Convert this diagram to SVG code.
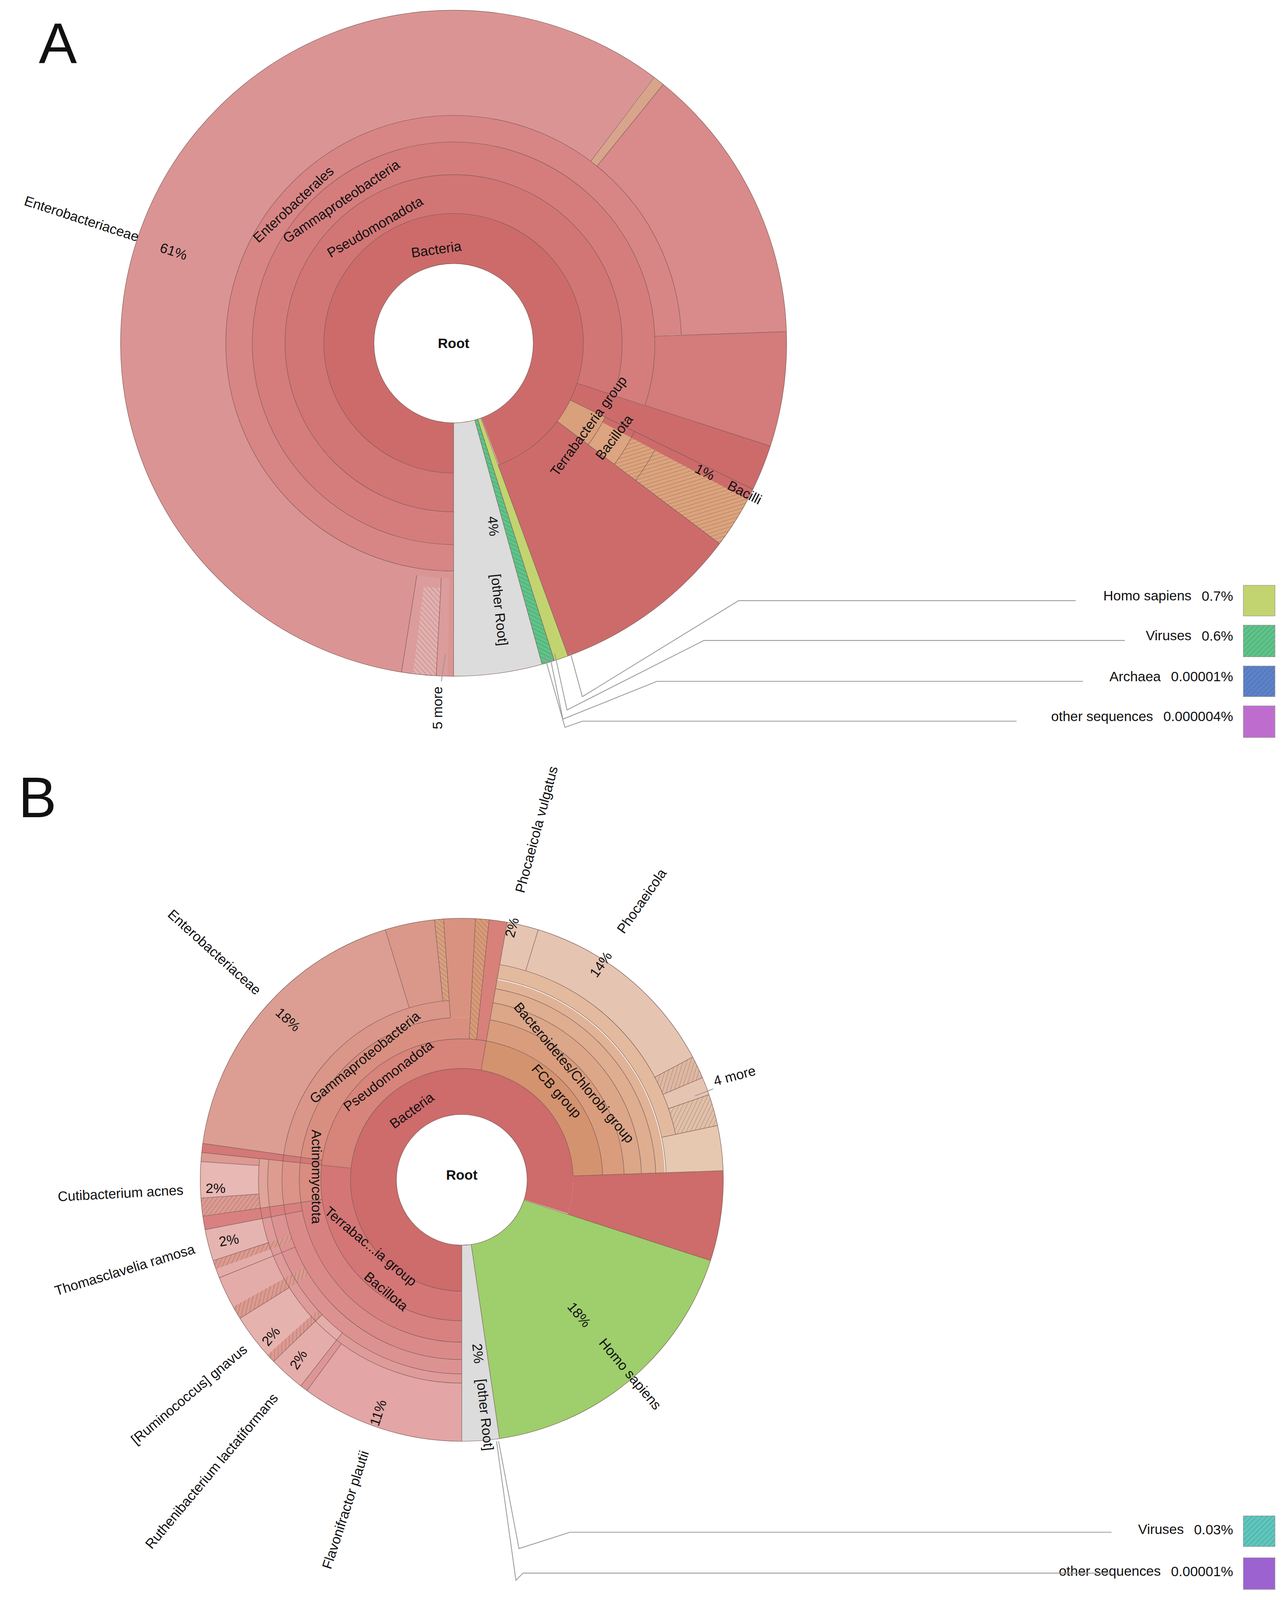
<svg xmlns="http://www.w3.org/2000/svg" width="3284" height="4102" viewBox="0 0 3284 4102">
<defs>
<pattern id="h" width="5" height="5" patternUnits="userSpaceOnUse"><path d="M0 5L5 0M-1 1L1 -1M4 6L6 4" stroke="#5a3a2a" stroke-opacity=".35" stroke-width=".5"/></pattern>
</defs>
<style>
circle{fill:none}
.b{stroke:#7a5a55;stroke-width:.45}
line.r{stroke:#7a5a55;stroke-width:.45}
text{font-family:"Liberation Sans",Arial,sans-serif;font-size:13.5px;fill:#111;text-anchor:middle;dominant-baseline:central}
.lg{text-anchor:end;font-size:13.5px}
.cn{fill:none;stroke:#999;stroke-width:.8}
.big{font-size:56px;text-anchor:start;dominant-baseline:auto}
</style>
<rect width="3284" height="4102" fill="#fff"/>
<g transform="scale(2.615)">
<text class="big" x="38" y="62">A</text>
<text class="big" x="18" y="800">B</text>

<g id="chartA" transform="translate(444,336)">
<g id="segsA">
<circle r="102.5" stroke-width="49" stroke="#cd6b6b" pathLength="360" stroke-dasharray="339.9 720" transform="rotate(90)"/>
<circle r="146" stroke-width="38" stroke="#d27575" pathLength="360" stroke-dasharray="288 720" transform="rotate(90)"/>
<circle r="181" stroke-width="32" stroke="#d57d7d" pathLength="360" stroke-dasharray="288 720" transform="rotate(90)"/>
<circle r="210" stroke-width="26" stroke="#d88585" pathLength="360" stroke-dasharray="268 720" transform="rotate(90)"/>
<circle r="274.5" stroke-width="103" stroke="#db9494" pathLength="360" stroke-dasharray="217 720" transform="rotate(90)"/>
<circle r="274.5" stroke-width="103" stroke="#d9a48c" pathLength="360" stroke-dasharray="2 720" transform="rotate(-53)"/>
<circle r="274.5" stroke-width="103" stroke="#d98a8a" pathLength="360" stroke-dasharray="49 720" transform="rotate(-51)"/>
<circle r="261.5" stroke-width="129" stroke="#d47b7b" pathLength="360" stroke-dasharray="20 720" transform="rotate(-2)"/>
<circle r="226.5" stroke-width="199" stroke="#cd6b6b" pathLength="360" stroke-dasharray="51.9 720" transform="rotate(18)"/>
<circle r="146" stroke-width="38" stroke="#d9a07c" pathLength="360" stroke-dasharray="11 720" transform="rotate(26)"/>
<circle r="181" stroke-width="32" stroke="#dca480" pathLength="360" stroke-dasharray="9 720" transform="rotate(28)"/>
<circle r="261.5" stroke-width="129" stroke="#dca47e" pathLength="360" stroke-dasharray="9 720" transform="rotate(28)"/>
<circle r="261.5" stroke-width="129" stroke="url(#h)" pathLength="360" stroke-dasharray="9 720" transform="rotate(28)"/>
<circle r="202" stroke-width="248" stroke="#c2d46f" pathLength="360" stroke-dasharray="2.5 720" transform="rotate(69.9)"/>
<circle r="202" stroke-width="248" stroke="#5cc58a" pathLength="360" stroke-dasharray="2.2 720" transform="rotate(72.4)"/>
<circle r="202" stroke-width="248" stroke="url(#h)" pathLength="360" stroke-dasharray="2.2 720" transform="rotate(72.4)"/>
<circle r="202" stroke-width="248" stroke="#dcdcdc" pathLength="360" stroke-dasharray="15.4 720" transform="rotate(74.6)"/>
<circle r="278" stroke-width="96" stroke="#dc9c9c" pathLength="360" stroke-dasharray="8 720" transform="rotate(91)"/>
<circle r="283" stroke-width="86" stroke="#e3b0b0" pathLength="360" stroke-dasharray="4 720" transform="rotate(93)"/>
<circle r="283" stroke-width="86" stroke="url(#h)" pathLength="360" stroke-dasharray="4 720" transform="rotate(93)"/>
</g>
<g id="bordersA">
<circle class="b" r="78"/>
<circle class="b" r="127" pathLength="360" stroke-dasharray="339.9 720" transform="rotate(90)"/>
<circle class="b" r="165" pathLength="360" stroke-dasharray="288 720" transform="rotate(90)"/>
<circle class="b" r="197" pathLength="360" stroke-dasharray="288 720" transform="rotate(90)"/>
<circle class="b" r="223" pathLength="360" stroke-dasharray="268 720" transform="rotate(90)"/>
<circle class="b" r="165" pathLength="360" stroke-dasharray="11 720" transform="rotate(26)"/>
<circle class="b" r="197" pathLength="360" stroke-dasharray="11 720" transform="rotate(26)"/>
<circle class="b" r="223" pathLength="360" stroke-dasharray="9 720" transform="rotate(28)"/>
<circle class="b" r="326"/>
<line class="r" y1="-78" y2="-326" transform="rotate(180)"/>
<line class="r" y1="-223" y2="-326" transform="rotate(37)"/>
<line class="r" y1="-223" y2="-326" transform="rotate(39)"/>
<line class="r" y1="-197" y2="-326" transform="rotate(88)"/>
<line class="r" y1="-127" y2="-326" transform="rotate(108)"/>
<line class="r" y1="-127" y2="-326" transform="rotate(116)"/>
<line class="r" y1="-127" y2="-326" transform="rotate(127)"/>
<line class="r" y1="-78" y2="-326" transform="rotate(159.9)"/>
<line class="r" y1="-78" y2="-326" transform="rotate(162.4)"/>
<line class="r" y1="-78" y2="-326" transform="rotate(164.6)"/>
<line class="r" y1="-230" y2="-326" transform="rotate(183)"/>
<line class="r" y1="-230" y2="-326" transform="rotate(189)"/>
</g>
</g>

<g id="labelsA">
<text transform="translate(80,214) rotate(18)">Enterobacteriaceae</text>
<text transform="translate(170,246) rotate(18)">61%</text>
<text transform="translate(287,200) rotate(-43)">Enterobacterales</text>
<text transform="translate(334,197) rotate(-34)">Gammaproteobacteria</text>
<text transform="translate(367,222) rotate(-30)">Pseudomonadota</text>
<text transform="translate(427,244) rotate(-8)">Bacteria</text>
<text x="444" y="336" font-weight="bold">Root</text>
<text transform="translate(576,417) rotate(-54)">Terrabacteria group</text>
<text transform="translate(601,428) rotate(-53)">Bacillota</text>
<text transform="translate(690,462) rotate(27)">1%</text>
<text transform="translate(729,482) rotate(27)">Bacilli</text>
<text transform="translate(483,515) rotate(84)">4%</text>
<text transform="translate(489,597) rotate(84)">[other Root]</text>
<text transform="translate(428,693) rotate(-90)">5 more</text>
</g>

<g id="legendA">
<rect x="1217" y="573" width="31" height="30" fill="#c2d46f" stroke="#999" stroke-width=".5"/>
<rect x="1217" y="612" width="31" height="31" fill="#5cc58a" stroke="#999" stroke-width=".5"/>
<rect x="1217" y="612" width="31" height="31" fill="url(#h)"/>
<rect x="1217" y="652" width="31" height="30" fill="#5b82cc" stroke="#999" stroke-width=".5"/>
<rect x="1217" y="652" width="31" height="30" fill="url(#h)"/>
<rect x="1217" y="691" width="31" height="31" fill="#bf6ccf" stroke="#999" stroke-width=".5"/>
<text class="lg" x="1207" y="583">Homo sapiens<tspan dx="10">0.7%</tspan></text>
<text class="lg" x="1207" y="622">Viruses<tspan dx="10">0.6%</tspan></text>
<text class="lg" x="1207" y="662">Archaea<tspan dx="10">0.00001%</tspan></text>
<text class="lg" x="1207" y="701">other sequences<tspan dx="10">0.000004%</tspan></text>
</g>

<g id="connectorsA">
<polyline class="cn" points="1053,588 723,588 570,682 558,638"/>
<polyline class="cn" points="1101,627 689,627 555,695 543,640"/>
<polyline class="cn" points="1060,667 643,667 551,704 538,641"/>
<polyline class="cn" points="995,706 570,706 553,712 533,642"/>
<line class="cn" x1="432" y1="667" x2="436" y2="640"/>
</g>

<g id="chartB" transform="translate(452,1155)">
<g id="segsB">
<circle r="86.5" stroke-width="45" stroke="#ce6b6b" pathLength="360" stroke-dasharray="288 720" transform="rotate(90)"/>
<circle r="182.5" stroke-width="147" stroke="#ce6b6b" pathLength="360" stroke-dasharray="20 720" transform="rotate(-2)"/>
<circle r="123.5" stroke-width="29" stroke="#d47676" pathLength="360" stroke-dasharray="96 720" transform="rotate(90)"/>
<circle r="148.5" stroke-width="21" stroke="#d88181" pathLength="360" stroke-dasharray="82 720" transform="rotate(90)"/>
<circle r="167.5" stroke-width="17" stroke="#db8a8a" pathLength="360" stroke-dasharray="82 720" transform="rotate(90)"/>
<circle r="183" stroke-width="14" stroke="#dd9292" pathLength="360" stroke-dasharray="79 720" transform="rotate(90)"/>
<circle r="194.5" stroke-width="9" stroke="#df9a9a" pathLength="360" stroke-dasharray="79 720" transform="rotate(90)"/>
<circle r="227.5" stroke-width="57" stroke="#e3a5a5" pathLength="360" stroke-dasharray="36.3 720" transform="rotate(90)"/>
<circle r="227.5" stroke-width="57" stroke="#dd9696" pathLength="360" stroke-dasharray="1.7 720" transform="rotate(126.3)"/>
<circle r="223" stroke-width="66" stroke="#e5adaa" pathLength="360" stroke-dasharray="8 720" transform="rotate(128)"/>
<circle r="223" stroke-width="66" stroke="#dd9a92" pathLength="360" stroke-dasharray="2 720" transform="rotate(136)"/>
<circle r="223" stroke-width="66" stroke="url(#h)" pathLength="360" stroke-dasharray="2 720" transform="rotate(136)"/>
<circle r="227.5" stroke-width="57" stroke="#e6b2ae" pathLength="360" stroke-dasharray="10 720" transform="rotate(138)"/>
<circle r="216" stroke-width="80" stroke="#dc9a90" pathLength="360" stroke-dasharray="3 720" transform="rotate(148)"/>
<circle r="216" stroke-width="80" stroke="url(#h)" pathLength="360" stroke-dasharray="3 720" transform="rotate(148)"/>
<circle r="227.5" stroke-width="57" stroke="#e4aca8" pathLength="360" stroke-dasharray="9 720" transform="rotate(151)"/>
<circle r="216" stroke-width="80" stroke="#dc9a90" pathLength="360" stroke-dasharray="2 720" transform="rotate(160)"/>
<circle r="216" stroke-width="80" stroke="url(#h)" pathLength="360" stroke-dasharray="2 720" transform="rotate(160)"/>
<circle r="227.5" stroke-width="57" stroke="#e6b4b0" pathLength="360" stroke-dasharray="7 720" transform="rotate(162)"/>
<circle r="207.5" stroke-width="97" stroke="#d98080" pathLength="360" stroke-dasharray="3 720" transform="rotate(169)"/>
<circle r="148.5" stroke-width="21" stroke="#d98c80" pathLength="360" stroke-dasharray="14 720" transform="rotate(172)"/>
<circle r="167.5" stroke-width="17" stroke="#dc9488" pathLength="360" stroke-dasharray="14 720" transform="rotate(172)"/>
<circle r="183" stroke-width="14" stroke="#de9c90" pathLength="360" stroke-dasharray="14 720" transform="rotate(172)"/>
<circle r="194.5" stroke-width="9" stroke="#e0a49a" pathLength="360" stroke-dasharray="14 720" transform="rotate(172)"/>
<circle r="227.5" stroke-width="57" stroke="#dc9a92" pathLength="360" stroke-dasharray="4 720" transform="rotate(172)"/>
<circle r="227.5" stroke-width="57" stroke="url(#h)" pathLength="360" stroke-dasharray="4 720" transform="rotate(172)"/>
<circle r="227.5" stroke-width="57" stroke="#e7b8b4" pathLength="360" stroke-dasharray="8 720" transform="rotate(176)"/>
<circle r="227.5" stroke-width="57" stroke="#dc9a92" pathLength="360" stroke-dasharray="2 720" transform="rotate(184)"/>
<circle r="123.5" stroke-width="29" stroke="#d7847a" pathLength="360" stroke-dasharray="94 720" transform="rotate(186)"/>
<circle r="197" stroke-width="118" stroke="#d47878" pathLength="360" stroke-dasharray="2 720" transform="rotate(186)"/>
<circle r="148.5" stroke-width="21" stroke="#d98f80" pathLength="360" stroke-dasharray="85 720" transform="rotate(188)"/>
<circle r="167.5" stroke-width="17" stroke="#da9688" pathLength="360" stroke-dasharray="78 720" transform="rotate(188)"/>
<circle r="216" stroke-width="80" stroke="#dc9e92" pathLength="360" stroke-dasharray="65 720" transform="rotate(188)"/>
<circle r="216" stroke-width="80" stroke="#d9988a" pathLength="360" stroke-dasharray="11 720" transform="rotate(253)"/>
<circle r="216" stroke-width="80" stroke="#d9a080" pathLength="360" stroke-dasharray="2 720" transform="rotate(264)"/>
<circle r="216" stroke-width="80" stroke="url(#h)" pathLength="360" stroke-dasharray="2 720" transform="rotate(264)"/>
<circle r="207.5" stroke-width="97" stroke="#d9927f" pathLength="360" stroke-dasharray="7 720" transform="rotate(266)"/>
<circle r="197" stroke-width="118" stroke="#d99a78" pathLength="360" stroke-dasharray="3 720" transform="rotate(-87)"/>
<circle r="197" stroke-width="118" stroke="url(#h)" pathLength="360" stroke-dasharray="3 720" transform="rotate(-87)"/>
<circle r="197" stroke-width="118" stroke="#d8807a" pathLength="360" stroke-dasharray="4 720" transform="rotate(-84)"/>
<circle r="123.5" stroke-width="29" stroke="#d4936f" pathLength="360" stroke-dasharray="78 720" transform="rotate(-80)"/>
<circle r="148.5" stroke-width="21" stroke="#d99d7d" pathLength="360" stroke-dasharray="78 720" transform="rotate(-80)"/>
<circle r="167.5" stroke-width="17" stroke="#dca688" pathLength="360" stroke-dasharray="78 720" transform="rotate(-80)"/>
<circle r="183" stroke-width="14" stroke="#dfad90" pathLength="360" stroke-dasharray="78 720" transform="rotate(-80)"/>
<circle r="194.5" stroke-width="9" stroke="#e1b396" pathLength="360" stroke-dasharray="78 720" transform="rotate(-80)"/>
<circle r="207" stroke-width="14" stroke="#e3ba9e" pathLength="360" stroke-dasharray="68 720" transform="rotate(-80)"/>
<circle r="235" stroke-width="42" stroke="#e6c4b2" pathLength="360" stroke-dasharray="52 720" transform="rotate(-80)"/>
<circle r="235" stroke-width="42" stroke="#dfb8a4" pathLength="360" stroke-dasharray="5 720" transform="rotate(-28)"/>
<circle r="235" stroke-width="42" stroke="url(#h)" pathLength="360" stroke-dasharray="5 720" transform="rotate(-28)"/>
<circle r="235" stroke-width="42" stroke="#e6c4b2" pathLength="360" stroke-dasharray="4 720" transform="rotate(-23)"/>
<circle r="235" stroke-width="42" stroke="#e1c0aa" pathLength="360" stroke-dasharray="7 720" transform="rotate(-19)"/>
<circle r="235" stroke-width="42" stroke="url(#h)" pathLength="360" stroke-dasharray="7 720" transform="rotate(-19)"/>
<circle r="228" stroke-width="56" stroke="#e6c8b0" pathLength="360" stroke-dasharray="10 720" transform="rotate(-12)"/>
<circle r="160" stroke-width="192" stroke="#9ecf6c" pathLength="360" stroke-dasharray="63.7 720" transform="rotate(18)"/>
<circle r="160" stroke-width="192" stroke="#dcdcdc" pathLength="360" stroke-dasharray="8.3 720" transform="rotate(81.7)"/>
</g>
<g id="bordersB">
<circle class="b" r="64"/>
<circle class="b" r="109" pathLength="360" stroke-dasharray="268 720" transform="rotate(90)"/>
<circle class="b" r="138" pathLength="360" stroke-dasharray="268 720" transform="rotate(90)"/>
<circle class="b" r="159" pathLength="360" stroke-dasharray="176 720" transform="rotate(90)"/>
<circle class="b" r="159" pathLength="360" stroke-dasharray="78 720" transform="rotate(-80)"/>
<circle class="b" r="176" pathLength="360" stroke-dasharray="176 720" transform="rotate(90)"/>
<circle class="b" r="176" pathLength="360" stroke-dasharray="78 720" transform="rotate(-80)"/>
<circle class="b" r="190" pathLength="360" stroke-dasharray="96 720" transform="rotate(90)"/>
<circle class="b" r="190" pathLength="360" stroke-dasharray="78 720" transform="rotate(-80)"/>
<circle class="b" r="199" pathLength="360" stroke-dasharray="96 720" transform="rotate(90)"/>
<circle class="b" r="200" pathLength="360" stroke-dasharray="78 720" transform="rotate(-80)"/>
<circle class="b" r="214" pathLength="360" stroke-dasharray="68 720" transform="rotate(-80)"/>
<circle class="b" r="256"/>
<line class="r" y1="-64" y2="-256" transform="rotate(180)"/>
<line class="r" y1="-64" y2="-256" transform="rotate(108)"/>
<line class="r" y1="-64" y2="-256" transform="rotate(171.7)"/>
<line class="r" y1="-109" y2="-256" transform="rotate(88)"/>
<line class="r" y1="-109" y2="-256" transform="rotate(10)"/>
<line class="r" y1="-109" y2="-256" transform="rotate(276)"/>
<line class="r" y1="-138" y2="-256" transform="rotate(262)"/>
<line class="r" y1="-138" y2="-256" transform="rotate(278)"/>
<line class="r" y1="-138" y2="-256" transform="rotate(3)"/>
<line class="r" y1="-138" y2="-256" transform="rotate(6)"/>
<line class="r" y1="-159" y2="-256" transform="rotate(356)"/>
<line class="r" y1="-176" y2="-256" transform="rotate(343)"/>
<line class="r" y1="-176" y2="-256" transform="rotate(354)"/>
<line class="r" y1="-199" y2="-256" transform="rotate(216.3)"/>
<line class="r" y1="-190" y2="-256" transform="rotate(218)"/>
<line class="r" y1="-190" y2="-256" transform="rotate(226)"/>
<line class="r" y1="-199" y2="-256" transform="rotate(238)"/>
<line class="r" y1="-176" y2="-256" transform="rotate(248)"/>
<line class="r" y1="-199" y2="-256" transform="rotate(252)"/>
<line class="r" y1="-159" y2="-256" transform="rotate(259)"/>
<line class="r" y1="-199" y2="-256" transform="rotate(266)"/>
<line class="r" y1="-199" y2="-256" transform="rotate(274)"/>
<line class="r" y1="-214" y2="-256" transform="rotate(17)"/>
<line class="r" y1="-214" y2="-256" transform="rotate(62)"/>
<line class="r" y1="-214" y2="-256" transform="rotate(67)"/>
<line class="r" y1="-214" y2="-256" transform="rotate(71)"/>
<line class="r" y1="-200" y2="-256" transform="rotate(78)"/>
</g>
</g>

<g id="labelsB">
<text transform="translate(525,812) rotate(-75)">Phocaeicola vulgatus</text>
<text transform="translate(501,908) rotate(-75)">2%</text>
<text transform="translate(588,944) rotate(-55)">14%</text>
<text transform="translate(628,882) rotate(-55)">Phocaeicola</text>
<text transform="translate(719,1053) rotate(-15)">4 more</text>
<text transform="translate(210,932) rotate(42)">Enterobacteriaceae</text>
<text transform="translate(282,998) rotate(42)">18%</text>
<text transform="translate(357,1035) rotate(-39)">Gammaproteobacteria</text>
<text transform="translate(380,1053) rotate(-37)">Pseudomonadota</text>
<text transform="translate(403,1087) rotate(-36)">Bacteria</text>
<text transform="translate(562,1050) rotate(50)">Bacteroidetes/Chlorobi group</text>
<text transform="translate(545,1068) rotate(48)">FCB group</text>
<text transform="translate(310,1152) rotate(90)">Actinomycetota</text>
<text transform="translate(363,1220) rotate(40)">Terrabac...ia group</text>
<text transform="translate(378,1264) rotate(40)">Bacillota</text>
<text x="452" y="1150" font-weight="bold">Root</text>
<text transform="translate(118,1168) rotate(-3)">Cutibacterium acnes</text>
<text transform="translate(211,1163)">2%</text>
<text transform="translate(122,1243) rotate(-17)">Thomasclavelia ramosa</text>
<text transform="translate(224,1214) rotate(-10)">2%</text>
<text transform="translate(185,1365) rotate(-40)">[Ruminococcus] gnavus</text>
<text transform="translate(265,1308) rotate(-50)">2%</text>
<text transform="translate(207,1440) rotate(-50)">Ruthenibacterium lactatiformans</text>
<text transform="translate(292,1331) rotate(-57)">2%</text>
<text transform="translate(338,1478) rotate(-72)">Flavonifractor plautii</text>
<text transform="translate(370,1383) rotate(-72)">11%</text>
<text transform="translate(567,1287) rotate(50)">18%</text>
<text transform="translate(617,1345) rotate(50)">Homo sapiens</text>
<text transform="translate(468,1325) rotate(84)">2%</text>
<text transform="translate(475,1385) rotate(84)">[other Root]</text>
</g>

<g id="legendB">
<rect x="1217" y="1484" width="31" height="30" fill="#5cc8c0" stroke="#999" stroke-width=".5"/>
<rect x="1217" y="1484" width="31" height="30" fill="url(#h)"/>
<rect x="1217" y="1525" width="31" height="31" fill="#9b62d0" stroke="#999" stroke-width=".5"/>
<text class="lg" x="1207" y="1497">Viruses<tspan dx="10">0.03%</tspan></text>
<text class="lg" x="1207" y="1538">other sequences<tspan dx="10">0.00001%</tspan></text>
</g>

<g id="connectorsB">
<polyline class="cn" points="1088,1500 558,1500 508,1516 488,1411"/>
<polyline class="cn" points="1088,1540 512,1540 505,1547 486,1411"/>
<line class="cn" x1="680" y1="1073" x2="698" y2="1066"/>
</g>
</g>
</svg>
